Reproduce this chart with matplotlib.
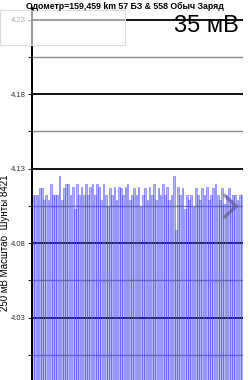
import matplotlib
matplotlib.use("Agg")
import matplotlib.pyplot as plt
from matplotlib.patches import Rectangle
from matplotlib.lines import Line2D

plt.rcParams['font.family'] = ['Liberation Sans', 'DejaVu Sans']

# 96 cell voltages (V)
cells = list(range(1, 97))
voltages = [
    4.112, 4.112, 4.112, 4.117, 4.117, 4.109, 4.112, 4.109, 4.120, 4.112, 4.112, 4.112,
    4.125, 4.109, 4.117, 4.120, 4.120, 4.112, 4.118, 4.103, 4.120, 4.112, 4.118, 4.112,
    4.120, 4.112, 4.118, 4.120, 4.112, 4.120, 4.118, 4.109, 4.120, 4.112, 4.104, 4.117,
    4.112, 4.118, 4.109, 4.118, 4.117, 4.112, 4.118, 4.120, 4.109, 4.112, 4.117, 4.112,
    4.118, 4.104, 4.112, 4.117, 4.109, 4.118, 4.112, 4.120, 4.109, 4.117, 4.112, 4.120,
    4.112, 4.118, 4.109, 4.112, 4.125, 4.089, 4.118, 4.112, 4.117, 4.103, 4.112, 4.109,
    4.112, 4.104, 4.117, 4.112, 4.109, 4.117, 4.112, 4.118, 4.109, 4.112, 4.117, 4.120,
    4.112, 4.109, 4.117, 4.106, 4.112, 4.117, 4.109, 4.112, 4.112, 4.109, 4.112, 4.112,
]
major_ticks = [4.03, 4.08, 4.13, 4.18, 4.23]
minor_ticks = [4.005, 4.055, 4.105, 4.155, 4.205]
tick_labels = ["4.03", "4.08", "4.13", "4.18", "4.23"]

title = "Одометр=159,459 km 57 БЗ & 558 Обыч Заряд"
ylabel = "250 мВ Масштаб  Шунты 8421"
spread = "35 мВ"

fig = plt.figure(figsize=(2.5, 3.8), dpi=100)
ax = fig.add_axes([0.128, 0.0, 0.844, 0.979])

base = 3.988
ax.bar(range(len(cells)), [v - base for v in voltages], bottom=base, width=0.8,
       facecolor=(0.15, 0.15, 1.0, 0.33), edgecolor=(0.3, 0.3, 1.0, 0.85),
       linewidth=0.4, zorder=2)

ax.set_xlim(-0.5, len(cells) - 0.5)
ax.set_ylim(base, 4.238)

ax.set_yticks(major_ticks)
ax.set_yticklabels(tick_labels)
ax.set_yticks(minor_ticks, minor=True)
for y in major_ticks:
    ax.axhline(y, color="black", lw=1.3, zorder=1)
for y in minor_ticks:
    ax.axhline(y, color="#8a8a8a", lw=1.0, zorder=1)

ax.tick_params(axis="y", which="major", labelsize=5.5, length=3, width=0.8,
               colors="#333333", pad=1.5)
ax.tick_params(axis="y", which="minor", length=3, width=0.8, color="#333333")
ax.set_xticks([])

for s in ["top", "right", "bottom"]:
    ax.spines[s].set_visible(False)
ax.spines["left"].set_linewidth(1.4)

ax.set_ylabel(ylabel, fontsize=7, va="center")
ax.yaxis.set_label_coords(-0.128, 0.37)

fig.text(0.5, 0.995, title, ha="center", va="top", fontsize=6.3, fontweight="bold")
fig.text(0.955, 0.96, spread, ha="right", va="top", fontsize=17)

# faint overlay box at top-left
fig.patches.append(Rectangle((0.0, 0.882), 0.5, 0.092, transform=fig.transFigure,
                             facecolor=(1, 1, 1, 0.6), edgecolor="#dddddd", lw=0.8))
# scroll chevron at right
fig.lines.append(Line2D([0.9, 0.945, 0.9], [0.485, 0.457, 0.43], transform=fig.transFigure,
                        color=(0.35, 0.35, 0.45, 0.6), lw=2.5))

fig.savefig("out.png", dpi=100)
